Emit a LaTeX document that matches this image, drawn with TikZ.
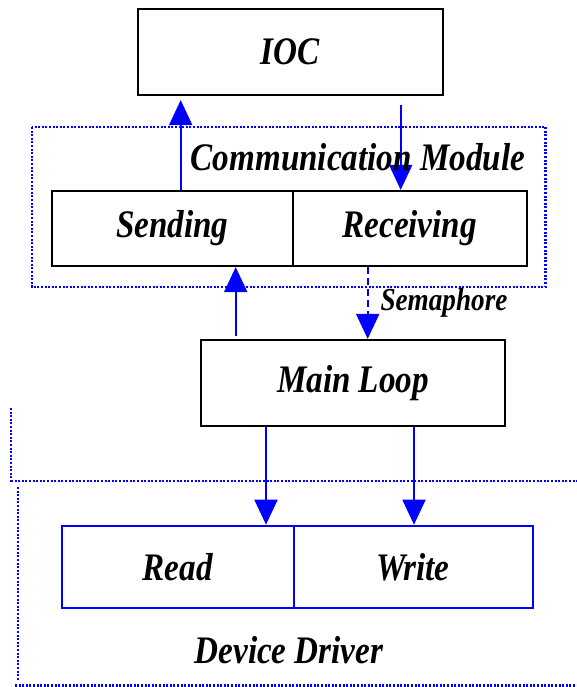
\documentclass[tikz,border=0pt]{standalone}
\usepackage{fontspec}
\setmainfont{Liberation Serif}
\newfontfamily\boxfont{Liberation Serif}[FakeStretch=0.85]
\usetikzlibrary{arrows.meta}

\definecolor{flowblue}{RGB}{0,0,255}

\tikzset{every picture/.style={line width=1.5pt}}
\tikzset{
	blockbox/.style={draw=black, line width=2.2pt, inner sep=0pt},
	driverbox/.style={draw=flowblue, line width=2.2pt, inner sep=0pt},
	blocklabel/.style={font=\boxfont\bfseries\itshape\fontsize{39}{44}\selectfont},
	smalllabel/.style={font=\boxfont\bfseries\itshape\fontsize{32}{36}\selectfont},
	flow/.style={draw=flowblue, line width=2pt, -{Triangle[length=25pt,width=23pt]}},
	grouping/.style={draw=flowblue, line width=2.2pt, dash pattern=on 2pt off 1.6pt}}

\begin{document}
\begin{tikzpicture}[x=1pt,y=1pt,yscale=-1,xscale=1]
	\useasboundingbox (0,0) rectangle (577,687);

	%Dotted Region: Communication Module
	\draw [grouping] (31.7,127) rectangle (545.5,287);
	%Dotted Region: Device Driver
	\draw [grouping] (11,408) -- (11,483);
	\draw [grouping] (11,481) -- (577,481);
	\draw [grouping] (17.7,487) -- (17.7,680);
	\draw [grouping] (15,685.5) -- (577,685.5);

	%Shape: Rectangle
	\node [blockbox, minimum width=305pt, minimum height=86pt, blocklabel] (ioc) at (290.3,52) {IOC};
	%Shape: Rectangle
	\node [blockbox, minimum width=241pt, minimum height=75pt, blocklabel] (sending) at (172.2,228.5) {Sending};
	%Shape: Rectangle
	\node [blockbox, minimum width=234pt, minimum height=75pt, blocklabel] (receiving) at (409.7,228.5) {Receiving};
	%Shape: Rectangle
	\node [blockbox, minimum width=304pt, minimum height=86pt, blocklabel] (mainloop) at (353,383) {Main Loop};
	%Shape: Rectangle
	\node [driverbox, minimum width=232pt, minimum height=82.5pt, blocklabel] (read) at (177.6,567) {Read};
	%Shape: Rectangle
	\node [driverbox, minimum width=239pt, minimum height=82.5pt, blocklabel] (write) at (413.1,567) {Write};

	%Straight Lines
	\draw [flow, shorten >=4pt] (sending.north -| 180.7,0) -- (ioc.south -| 180.7,0);
	\draw [flow, shorten <=9pt] (ioc.south -| 400.7,0) -- (receiving.north -| 400.7,0);
	\draw [flow, shorten <=3pt] (mainloop.north -| 235.7,0) -- (sending.south -| 235.7,0);
	\draw [flow, dash pattern=on 7pt off 4pt] (receiving.south -| 367.7,0) -- (mainloop.north -| 367.7,0);
	\draw [flow] (mainloop.south -| 266,0) -- (read.north -| 266,0);
	\draw [flow] (mainloop.south -| 414,0) -- (write.north -| 414,0);

	% Text Node
	\node [blocklabel] (commlabel) at (358,157) {Communication Module};
	% Text Node
	\node [smalllabel] (semlabel) at (444,303) {Semaphore};
	% Text Node
	\node [blocklabel] (driverlabel) at (289,650) {Device Driver};
\end{tikzpicture}
\end{document}
